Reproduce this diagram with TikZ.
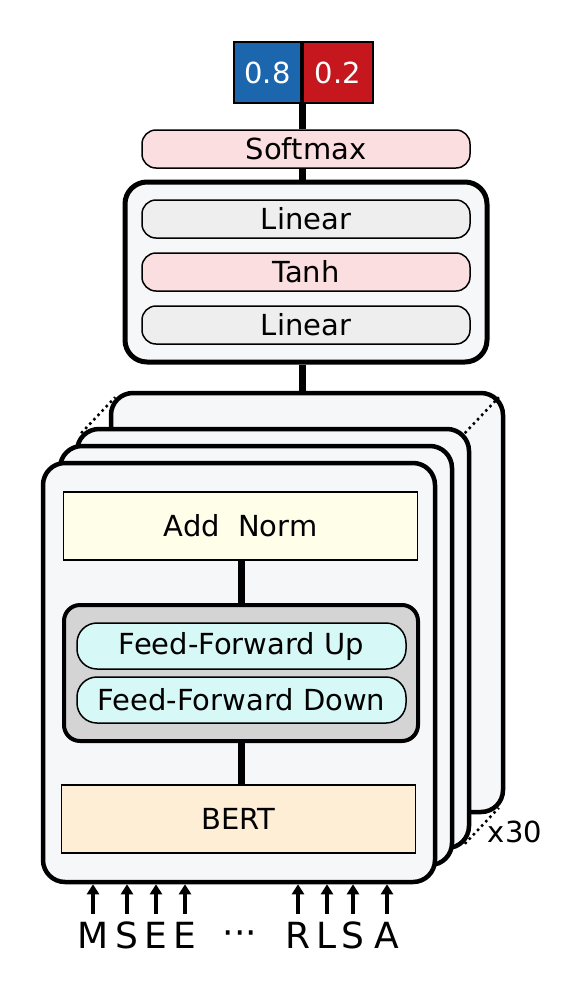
\documentclass[tikz,border=0pt]{standalone}
\usepackage{fontspec}
\setmainfont{DejaVu Sans}
\usepackage{tikz}
\usetikzlibrary{calc,arrows.meta}

\definecolor{probblue}{RGB}{27,102,172}
\definecolor{probred}{RGB}{197,23,29}
\definecolor{softpink}{RGB}{251,223,224}
\definecolor{lingrey}{RGB}{238,238,238}
\definecolor{panelfill}{RGB}{246,247,249}
\definecolor{normyellow}{RGB}{255,254,233}
\definecolor{ffgrey}{RGB}{212,212,212}
\definecolor{ffcyan}{RGB}{214,248,247}
\definecolor{bertorange}{RGB}{255,238,214}

\tikzset{
  txt/.style={font=\fontsize{29}{34}\selectfont},
  probbox/.style={draw, txt, line width=2, minimum height=61, inner sep=0, text=white},
  pill/.style={draw, txt, line width=1.5, rounded corners=14, minimum width=328, minimum height=38, inner sep=0},
  panel/.style={draw, line width=4.5, rounded corners=22, fill=panelfill, inner sep=0},
  layer/.style={panel, minimum width=392, minimum height=419},
  flatbox/.style={draw, txt, line width=1.5, minimum width=354, minimum height=68, inner sep=0},
  ffpill/.style={pill, rounded corners=20, minimum width=329, minimum height=46, fill=ffcyan},
  link/.style={line width=7},
  dotlink/.style={line width=2.5, dash pattern=on 2.5pt off 3.5pt},
  inarrow/.style={line width=4, -{Triangle[length=10pt,width=12pt]}},
  letter/.style={font=\fontsize{36}{40}\selectfont, inner sep=0, text height=27, text depth=0, anchor=base}
}

\begin{document}
\begin{tikzpicture}[x=1pt,y=-1pt]
\useasboundingbox (0,0) rectangle (584,991);

% output probabilities
\node[probbox, fill=probblue, minimum width=67] (p1) at (267.5,72.5) {0.8};
\node[probbox, fill=probred, minimum width=70, anchor=west] (p2) at (p1.east) {0.2};
\node[pill, fill=softpink] (soft) at (306,149) {Softmax};
\draw[link] (p1.south east) -- (soft.north -| p1.south east);

% classifier head
\node[panel, line width=5, minimum width=362, minimum height=180] (head) at (306,272) {};
\node[pill, fill=lingrey] (lin1) at (306,219) {Linear};
\node[pill, fill=softpink] (tanh) at (306,272) {Tanh};
\node[pill, fill=lingrey] (lin2) at (306,325) {Linear};
\draw[link] (soft.south -| p1.east) -- (head.north -| p1.east);

% stacked layers
\node[layer] (back) at (307,602.5) {};
\draw[link] (head.south -| p1.east) -- (back.north -| p1.east);
\node[layer, draw=none, fill=none] (mid) at (273,638.5) {};
\draw[dotlink] ($(mid.north west)+(6.4,6.4)$) -- ($(back.north west)+(6.4,6.4)$);
\draw[dotlink] ($(mid.north east)+(-6.4,6.4)$) -- ($(back.north east)+(-6.4,6.4)$);
\draw[dotlink] ($(mid.south east)+(-6.4,-6.4)$) -- ($(back.south east)+(-6.4,-6.4)$);
\node[layer] (mid) at (273,638.5) {};
\node[layer] (third) at (256,655.5) {};
\node[layer] (front) at (239,672.5) {};
\node[txt] (reps) at (515,832) {x30};

% inside one layer
\node[flatbox, fill=normyellow] (norm) at (240.5,526) {Add~~Norm};
\node[panel, line width=4, rounded corners=16, fill=ffgrey, minimum width=354, minimum height=136] (ff) at (241,673) {};
\node[ffpill] (ffup) at (241.5,646) {Feed-Forward Up};
\node[ffpill] (ffdown) at (241.5,700) {Feed-Forward Down};
\node[flatbox, fill=bertorange] (bert) at (238.5,819) {BERT};
\draw[link] (norm.south -| ff.north) -- (ff.north);
\draw[link] (ff.south) -- (bert.north -| ff.south);

% input tokens
\foreach \x/\c [count=\i] in {93/M,127/S,156/E,185/E,298/R,327/L,353/S,387/A}{
  \node[letter] (in\i) at (\x,948) {\c};
  \draw[inarrow, shorten <=7pt] (in\i.north) -- (in\i.north |- front.south);
}
\node[letter] (gap) at (240,945) {···};

\end{tikzpicture}
\end{document}
